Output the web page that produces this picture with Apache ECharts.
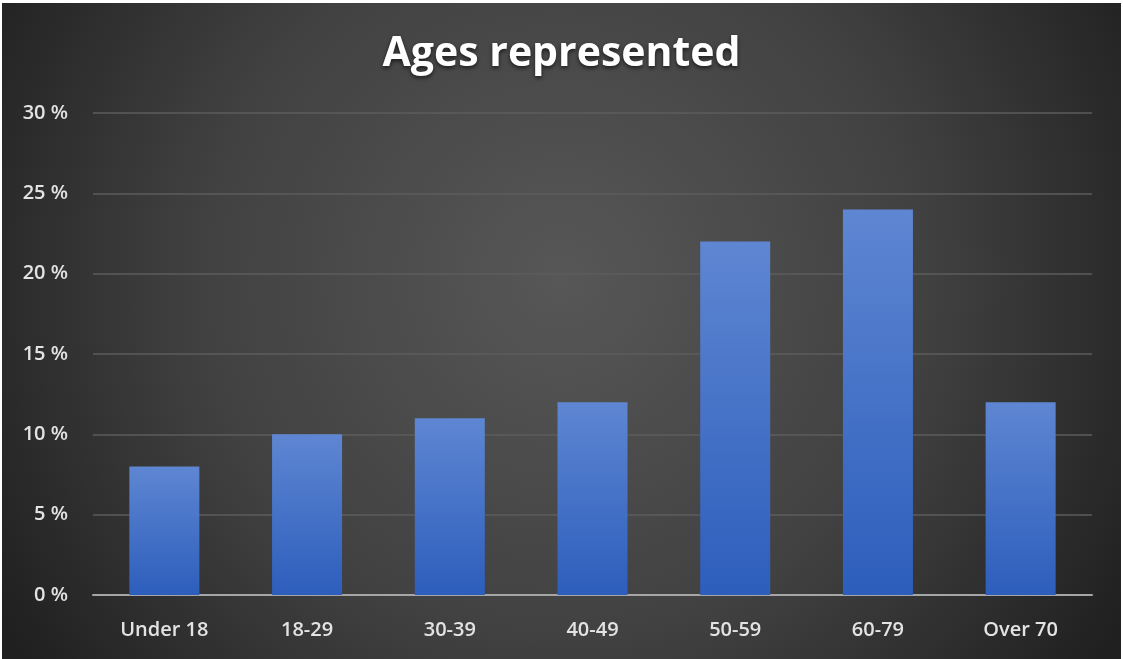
<!DOCTYPE html>
<html>
<head>
<meta charset="utf-8">
<script src="https://cdn.jsdelivr.net/npm/echarts@6/dist/echarts.min.js"></script>
<style>
html, body { margin: 0; padding: 0; background: #ffffff; }
#chart { position: absolute; left: 2px; top: 3px; width: 1119px; height: 656px; }
</style>
</head>
<body>
<div id="chart"></div>
<script>
var categories = ["Under 18", "18-29", "30-39", "40-49", "50-59", "60-79", "Over 70"];
var shares = [8, 10, 11, 12, 22, 24, 12];
var yTicks = [0, 5, 10, 15, 20, 25, 30];

var chart = echarts.init(document.getElementById("chart"));
chart.setOption({
    backgroundColor: new echarts.graphic.RadialGradient(0.5, 0.42, 1.0, [
        { offset: 0, color: "#575757" },
        { offset: 0.55, color: "#414141" },
        { offset: 1, color: "#202020" }
    ]),
    title: {
        text: "Ages represented",
        left: "center",
        top: 26,
        textStyle: {
            color: "#ffffff",
            fontFamily: "Open Sans",
            fontWeight: "bold",
            fontSize: 41,
            textShadowColor: "rgba(0,0,0,0.65)",
            textShadowBlur: 4,
            textShadowOffsetY: 2
        }
    },
    grid: { left: 91, right: 29, top: 110, bottom: 64 },
    xAxis: {
        type: "category",
        data: categories,
        axisLine: { lineStyle: { color: "#a6a6a6", width: 2 } },
        axisTick: { show: false },
        axisLabel: {
            color: "#e3e3e3",
            fontFamily: "Open Sans",
            fontWeight: 600,
            fontSize: 20,
            margin: 25
        }
    },
    yAxis: {
        type: "value",
        min: yTicks[0],
        max: yTicks[yTicks.length - 1],
        interval: 5,
        axisLine: { show: false },
        axisTick: { show: false },
        splitLine: { lineStyle: { color: "#5c5c5c", width: 1.5 } },
        axisLabel: {
            color: "#e3e3e3",
            fontFamily: "Open Sans",
            fontWeight: 600,
            fontSize: 20,
            margin: 25,
            formatter: "{value} %"
        }
    },
    series: [
        {
            type: "bar",
            data: shares,
            barWidth: 70,
            itemStyle: {
                color: new echarts.graphic.LinearGradient(0, 0, 0, 1, [
                    { offset: 0, color: "#5e86d2" },
                    { offset: 1, color: "#2d5ebc" }
                ]),
                shadowColor: "rgba(0,0,0,0.45)",
                shadowBlur: 6,
                shadowOffsetX: 2,
                shadowOffsetY: 1
            }
        }
    ]
});
</script>
</body>
</html>
